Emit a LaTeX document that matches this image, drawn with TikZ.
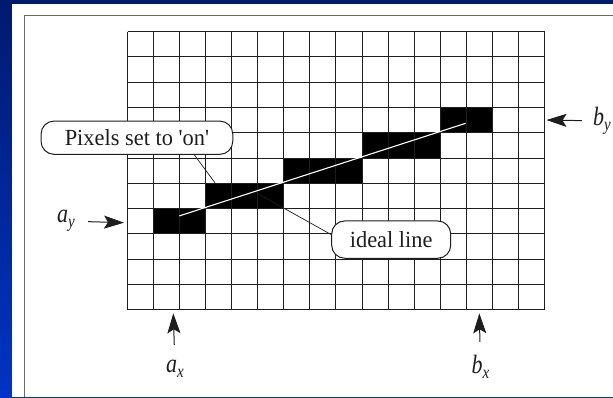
\documentclass[tikz,border=0pt]{standalone}
\usepackage{fontspec}
\setmainfont{Liberation Serif}
\usetikzlibrary{arrows.meta}
\definecolor{navy}{HTML}{001A6E}
\definecolor{brightblue}{HTML}{0034C6}
\definecolor{framegray}{HTML}{6A6A6A}
\definecolor{ink}{HTML}{1E1E1E}
\newcommand\mylab[2]{\scalebox{1.0}[1.2]{\fontsize{22}{24}\selectfont\itshape #1\raisebox{-4.5pt}{\fontsize{15}{16}\selectfont #2}}}
\newcommand\wide[1]{\scalebox{1.087}[1.12]{#1}}
\begin{document}
\begin{tikzpicture}[x=1pt,y=-1pt,
  gridline/.style={ink, line width=1.1pt},
  callout/.style={draw=ink, line width=1pt, fill=white, rounded corners=13pt,
    inner sep=0pt, font=\fontsize{20.6}{22}\selectfont, text=ink},
  leader/.style={ink, line width=0.7pt},
  arr/.style={ink, line width=1pt, -{Stealth[length=20pt,width=13pt,inset=4pt]}},
  lbl/.style={inner sep=0pt, text=ink}]
\useasboundingbox (0,0) rectangle (613,397);
% background
\shade[top color=navy, bottom color=brightblue] (0,0) rectangle (613,397);
\fill[white] (11.7,4) rectangle (613,397);
\draw[framegray, line width=1.6pt] (24.5,397) -- (24.5,15.3) -- (613,15.3);
% black pixels
\foreach \c/\r in {1/7,2/7,3/6,4/6,5/6,6/5,7/5,8/5,9/4,10/4,11/4,12/3,13/3}
  \fill[black] ({round(127.3+\c*26.025)+0.5},{round(31+\r*25.3)+0.5})
    rectangle ({round(127.3+(\c+1)*26.025)+0.5},{round(31+(\r+1)*25.3)+0.5});
% grid
\foreach \i in {0,...,16}
  \draw[gridline] ({round(127.3+\i*26.025)+0.5},31.5) -- ({round(127.3+\i*26.025)+0.5},309.5);
\foreach \j in {0,...,11}
  \draw[gridline] (127.5,{round(31+\j*25.3)+0.5}) -- (544.5,{round(31+\j*25.3)+0.5});
% ideal line
\coordinate (L0) at (179.35,215.9);
\coordinate (L1) at (465.6,123.3);
\draw[white, line width=1.1pt] (L0) -- (L1);
% callouts
\node[callout, minimum width=191.7pt, minimum height=33.3pt] (pix) at (136.9,137.7) {\wide{Pixels set to \textquotesingle on\textquotesingle}};
\node[callout, minimum width=119pt, minimum height=37.3pt] (ideal) at (391.2,239.6) {\wide{ideal line}};
\coordinate (pixfoot) at ([xshift=57.4pt]pix.south);
\coordinate (pixend) at (215,182.8);
\draw[leader] (pixfoot) -- (pixend);
\coordinate (idealfoot) at ([yshift=5pt]ideal.west);
\coordinate (idealend) at (256.7,193);
\draw[leader] (idealfoot) -- (idealend);
% labels and arrows
\node[lbl] (ay) at (66,221) {\mylab{a}{y}};
\coordinate (aytip) at (124,222.7);
\draw[arr, shorten <=13pt] (ay) -- (aytip);
\node[lbl] (by) at (602,121) {\mylab{b}{y}};
\coordinate (bytip) at (546.5,120);
\draw[arr, shorten <=11pt] (by) -- (bytip);
\node[lbl] (ax) at (175,369) {\mylab{a}{x}};
\coordinate (axtip) at (173.3,313.3);
\draw[arr, shorten <=15pt] (ax) -- (axtip);
\node[lbl] (bx) at (480.5,367) {\mylab{b}{x}};
\coordinate (bxtip) at (479.3,313.3);
\draw[arr, shorten <=13pt] (bx) -- (bxtip);
\end{tikzpicture}
\end{document}
